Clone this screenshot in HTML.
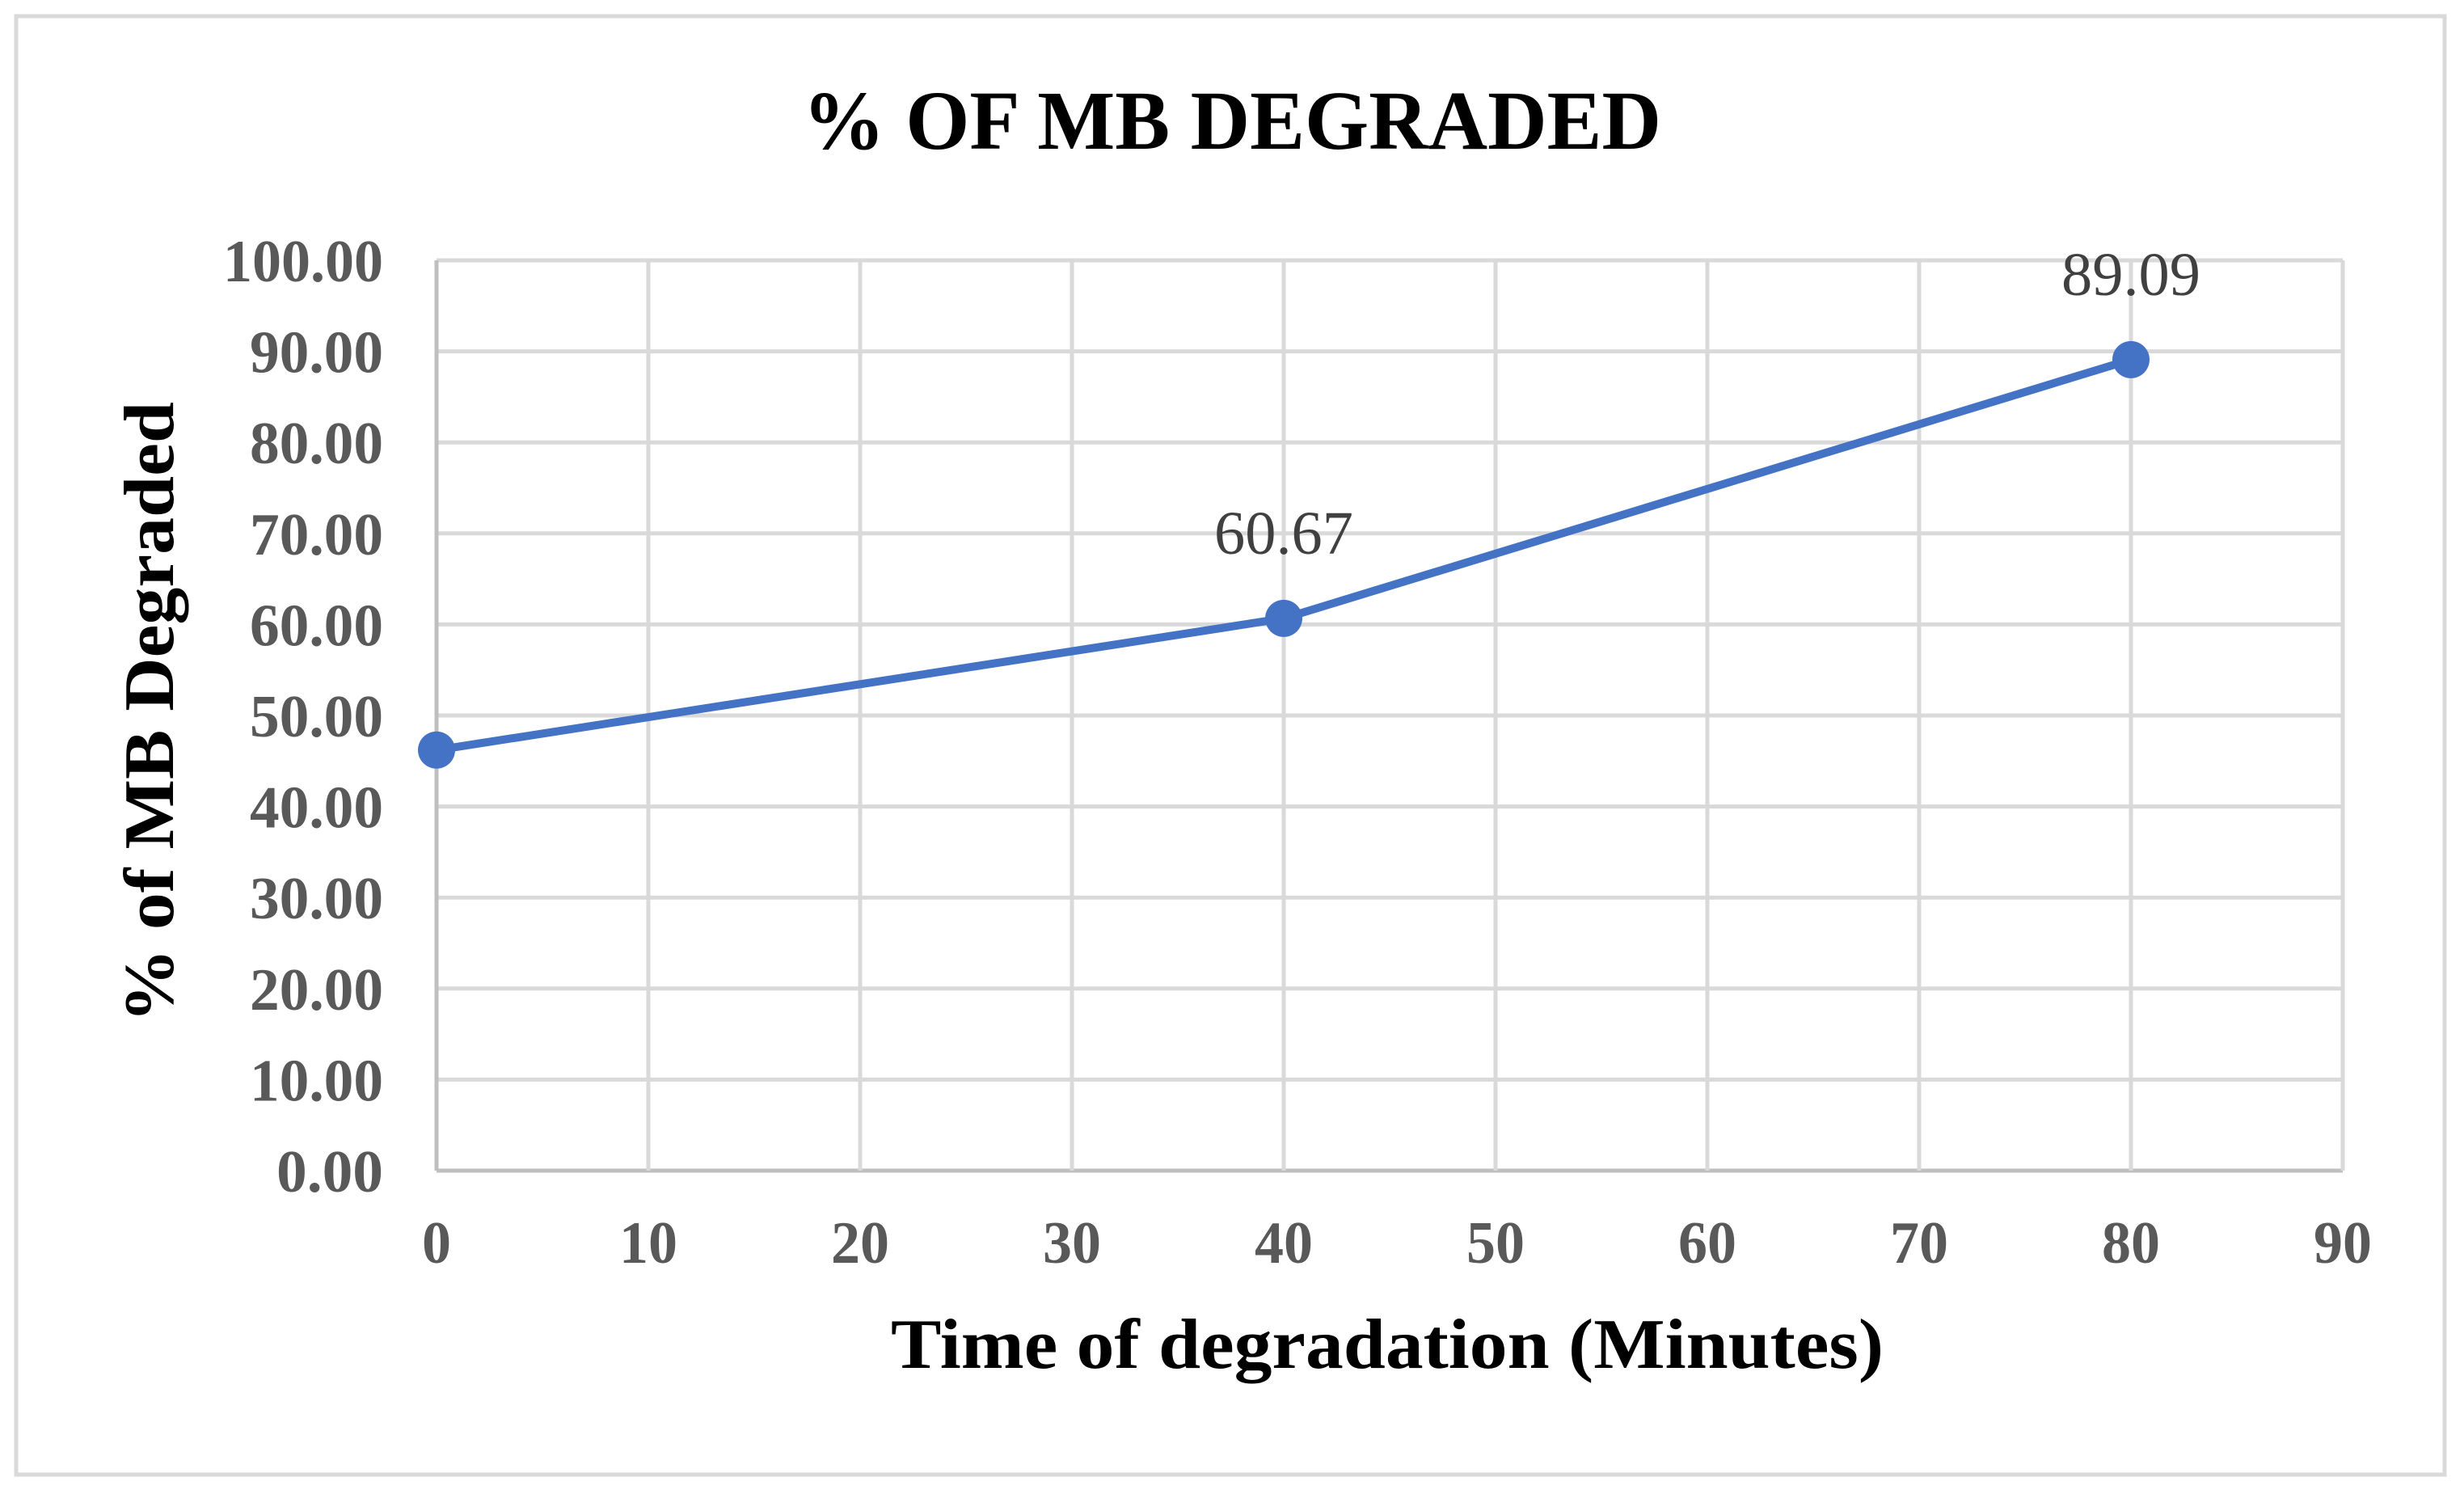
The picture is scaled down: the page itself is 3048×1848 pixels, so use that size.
<!DOCTYPE html>
<html><head><meta charset="utf-8"><style>
html,body{margin:0;padding:0;background:#fff}
svg{display:block}
text{font-family:"Liberation Serif",serif}
</style></head><body>
<svg id="chart" width="3048" height="1848" viewBox="0 0 3048 1848">
<rect x="20" y="20" width="3004" height="1804" fill="#fff" stroke="#d9d9d9" stroke-width="5"/>
<text x="1524" y="184" text-anchor="middle" font-size="104" font-weight="bold" fill="#000" textLength="1062" lengthAdjust="spacingAndGlyphs">% OF MB DEGRADED</text>
<g id="grid"></g>
<g id="axes"></g>
<g id="series"></g>
<text x="1716" y="1692" text-anchor="middle" font-size="88" font-weight="bold" fill="#000" textLength="1228" lengthAdjust="spacingAndGlyphs">Time of degradation (Minutes)</text>
<text transform="translate(214,881) rotate(-90)" text-anchor="middle" font-size="88" font-weight="bold" fill="#000" textLength="768" lengthAdjust="spacingAndGlyphs">% of MB Degraded</text>
</svg>
<script>
const xTicks = [0,10,20,30,40,50,60,70,80,90];
const yTicks = [0,10,20,30,40,50,60,70,80,90,100];
const xValues = [0,40,80];
const yValues = [46.2,60.67,89.09];
const valueLabels = ["","60.67","89.09"];

const NS="http://www.w3.org/2000/svg";
const L=540,R=2898,T=322,B=1448;
const xS=v=>L+(v-0)/(90-0)*(R-L);
const yS=v=>B-(v-0)/(100-0)*(B-T);
function mk(tag,attrs,parent,txt){const e=document.createElementNS(NS,tag);for(const k in attrs)e.setAttribute(k,attrs[k]);if(txt!==undefined)e.textContent=txt;parent.appendChild(e);return e;}
const grid=document.getElementById('grid'),axes=document.getElementById('axes'),series=document.getElementById('series');
yTicks.forEach(v=>{
  const l=mk('line',{x1:L,x2:R,y1:yS(v),y2:yS(v),stroke:v===0?'#bfbfbf':'#d9d9d9','stroke-width':5},grid);
  
  
  const s=v.toFixed(2);
  const t=mk('text',{x:474,y:yS(v)+26,'text-anchor':'end','font-size':74,'font-weight':'bold',fill:'#595959',textLength:s.length*33,lengthAdjust:'spacingAndGlyphs'},axes,s);
  
  
});
xTicks.forEach(v=>{
  const l=mk('line',{x1:xS(v),x2:xS(v),y1:T,y2:B,stroke:v===0?'#bfbfbf':'#d9d9d9','stroke-width':5},grid);
  
  
  const s=String(v);
  const t=mk('text',{x:xS(v),y:1562,'text-anchor':'middle','font-size':74,'font-weight':'bold',fill:'#595959',textLength:s.length*36,lengthAdjust:'spacingAndGlyphs'},axes,s);
  
  
});
const pts=xValues.map((x,i)=>xS(x)+','+yS(yValues[i])).join(' ');
const pl=mk('polyline',{points:pts,fill:'none',stroke:'#4472c4','stroke-width':10,'stroke-linejoin':'round'},series);


xValues.forEach((x,i)=>{
  const c=mk('circle',{cx:xS(x),cy:yS(yValues[i]),r:23,fill:'#4472c4'},series);
  
  
  if(valueLabels[i]){
    const t=mk('text',{x:xS(x),y:yS(yValues[i])-80,'text-anchor':'middle','font-size':76,fill:'#404040',textLength:172,lengthAdjust:'spacingAndGlyphs'},series,valueLabels[i]);
    
    
  }
});
</script>
</body></html>
